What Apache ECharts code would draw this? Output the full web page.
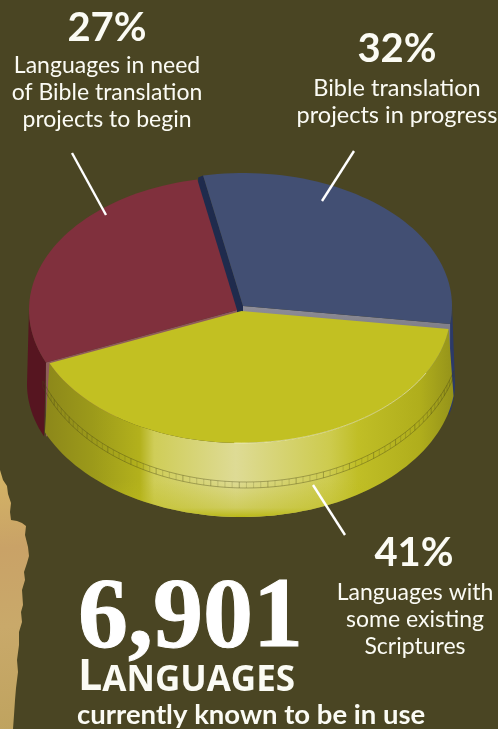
<!DOCTYPE html>
<html>
<head>
<meta charset="utf-8">
<script src="https://cdn.jsdelivr.net/npm/echarts@6/dist/echarts.min.js"></script>
<style>
html,body{margin:0;padding:0;background:#4a4523;}
#chart{width:498px;height:729px;}
</style>
</head>
<body>
<div id="chart"></div>
<script>
var categories = ['Bible translation\nprojects in progress', 'Languages with\nsome existing\nScriptures', 'Languages in need\nof Bible translation\nprojects to begin'];
var shares = [32, 41, 27];
var totalLabel = '6,901';

var START_ANGLE = -11;
var BODY_FONT = 'Lato, "Open Sans", sans-serif';
var WHITE = '#fbfbf4';

// each slice sits a little off centre, like the exploded pie in the picture
var sliceLook = [
  {cx: 243, cy: 306, rx: 209, ry: 133, top: '#424f73', side: '#2c3a68'},
  {cx: 241.5, cy: 311, rx: 209, ry: 132, top: '#c2c022', side: '#b5b31c'},
  {cx: 237, cy: 310, rx: 208, ry: 133, top: '#80303d', side: '#561520'}
];
var drawOrder = [0, 2, 1];

// slight perspective stretch: near part of the disc takes less screen angle than its share
function warp(a) {
  return a - 4.5 * (1 - Math.cos((a - START_ANGLE) * Math.PI / 180));
}

function sliceRange(i) {
  var sum = 0, before = 0;
  for (var k = 0; k < shares.length; k++) {
    sum += shares[k];
    if (k < i) before += shares[k];
  }
  return [warp(START_ANGLE + before / sum * 360), warp(START_ANGLE + (before + shares[i]) / sum * 360)];
}

function pt(l, deg, drop, grow, ryOver) {
  var r = deg * Math.PI / 180;
  return [l.cx + (l.rx + (grow || 0)) * Math.sin(r), l.cy + (drop || 0) - (ryOver || l.ry) * Math.cos(r)];
}

function arc(l, a0, a1, drop, grow, ryOver) {
  var pts = [], n = Math.max(2, Math.ceil(Math.abs(a1 - a0) / 2));
  for (var k = 0; k <= n; k++) pts.push(pt(l, a0 + (a1 - a0) * k / n, drop, grow, ryOver));
  return pts;
}

function grad(x0, y0, x1, y1, stops) {
  return {type: 'linear', x: x0, y: y0, x2: x1, y2: y1, global: true, colorStops: stops};
}

function yellowSide(l, a0, a1) {
  var upper = arc(l, a0, a1);
  var lower = arc(l, a1, a0, 66, 5, 140);
  var shape = {points: upper.concat(lower)};
  var ringTop = [], ringBot = [], ticks = [];
  var ring = {cx: 246, cy: 329, rx: 216, ry: 153};
  var n = 0;
  for (var a = a0 + 8; a <= a1 + 4; a += 1.9) {
    var p = pt(ring, a, 0), q = pt(ring, a, 6);
    ringTop.push(p);
    ringBot.push(q);
    ticks.push({type: 'line', shape: {x1: p[0], y1: p[1], x2: q[0], y2: q[1]},
      style: {stroke: 'rgba(70,68,20,' + (n % 4 == 0 ? 0.5 : 0.28) + ')', lineWidth: 0.7}});
    n++;
  }
  var out = [
    {type: 'polygon', shape: shape, style: {fill: grad(44, 0, 452, 0, [
      {offset: 0, color: '#8c871a'},
      {offset: 0.12, color: '#9c9a1a'},
      {offset: 0.235, color: '#b3b11c'},
      {offset: 0.27, color: '#cfcd58'},
      {offset: 0.47, color: '#dedb95'},
      {offset: 0.7, color: '#cdcb4e'},
      {offset: 0.77, color: '#c0be26'},
      {offset: 0.92, color: '#b0ae1c'},
      {offset: 1, color: '#96941a'}
    ])}},
    {type: 'polygon', shape: shape, style: {fill: grad(0, 480, 0, 517, [
      {offset: 0, color: 'rgba(189,187,28,0)'},
      {offset: 0.75, color: 'rgba(189,187,28,0.45)'},
      {offset: 1, color: 'rgba(185,183,24,1)'}
    ])}},
    {type: 'polyline', shape: {points: ringTop}, style: {stroke: 'rgba(70,68,20,0.55)', lineWidth: 0.7, fill: null}},
    {type: 'polyline', shape: {points: ringBot}, style: {stroke: 'rgba(70,68,20,0.55)', lineWidth: 0.7, fill: null}}
  ];
  return out.concat(ticks);
}

function renderSlice(params, api) {
  var i = api.value(0);
  var l = sliceLook[i];
  var range = sliceRange(i);
  var a0 = range[0], a1 = range[1];
  var kids = [];
  var centre = [l.cx, l.cy];
  var DROP = 74;

  if (i == 0) {
    // blue: sliver of side at right, dark cut facing the red slice, grey cut facing the yellow one
    var s = pt(l, a0), e = pt(l, a1);
    kids.push({type: 'polygon', shape: {points: arc(l, 88, a1 + 6).concat(arc(l, a1 + 6, 88, DROP + 4, 3))}, style: {fill: l.side}});
    kids.push({type: 'polygon', shape: {points: [centre, s, [s[0] - 5, s[1] + 2], [s[0] - 5, s[1] + DROP], [centre[0], centre[1] + DROP]]}, style: {fill: '#1f2b4d'}});
    kids.push({type: 'polygon', shape: {points: [centre, e, [e[0], e[1] + DROP], [centre[0], centre[1] + DROP]]}, style: {fill: grad(0, 306, 0, 340, [
      {offset: 0, color: '#8f8e98'}, {offset: 1, color: '#77767f'}
    ])}});
  }
  if (i == 2) {
    var s2 = pt(l, a0);
    kids.push({type: 'polygon', shape: {points: [centre, s2, [s2[0], s2[1] + DROP], [centre[0], centre[1] + DROP]]}, style: {fill: '#8f5b5b'}});
    kids.push({type: 'polygon', shape: {points: arc(l, a0, 272).concat(arc(l, 272, a0, DROP, 2))}, style: {fill: l.side}});
  }
  if (i == 1) kids = kids.concat(yellowSide(l, a0, a1));

  kids.push({type: 'polygon', shape: {points: [centre].concat(arc(l, a0, a1))}, style: {fill: l.top}});

  if (i == 1) {
    kids.push({type: 'polyline', shape: {points: arc(l, 118, 182)}, style: {stroke: 'rgba(250,250,220,0.55)', lineWidth: 1, fill: null}});
  }
  return {type: 'group', children: kids};
}

function textBlock(x, y, text, size, weight, lh) {
  return {type: 'text', x: x, y: y, silent: true, style: {
    text: text, fill: WHITE, align: 'center', verticalAlign: 'top',
    font: weight + ' ' + size + 'px ' + BODY_FONT, lineHeight: lh
  }};
}

function leader(x1, y1, x2, y2) {
  return {type: 'line', silent: true, shape: {x1: x1, y1: y1, x2: x2, y2: y2}, style: {stroke: '#ffffff', lineWidth: 2.4}, z: 5};
}

var tornEdge = [[0, 470], [3, 480], [7, 486], [8, 494], [11, 503], [10, 512], [11, 520], [17, 521], [22, 523], [26, 526], [25, 535], [28, 547], [29, 556], [27, 563], [24, 572], [25, 580], [22, 590], [23, 605], [21, 612], [22, 622], [19, 632], [19, 645], [17, 660], [18, 672], [16, 688], [15, 700], [14, 715], [13, 729], [0, 729]];

var myChart = echarts.init(document.getElementById('chart'), null, {renderer: 'canvas'});
myChart.setOption({
  backgroundColor: '#4a4523',
  animation: false,
  series: [{
    type: 'custom',
    coordinateSystem: 'none',
    silent: true,
    data: drawOrder.map(function (i) { return [i, shares[i], categories[i]]; }),
    renderItem: renderSlice
  }],
  graphic: [
    {type: 'polygon', silent: true, shape: {points: tornEdge}, style: {fill: grad(0, 470, 28, 729, [
      {offset: 0, color: '#d4b565'}, {offset: 0.3, color: '#c9a267'}, {offset: 0.6, color: '#c9a96a'}, {offset: 1, color: '#bfa35f'}
    ])}},
    leader(72, 153, 106, 215),
    leader(354, 151, 322, 201),
    leader(313, 485, 345, 535),
    textBlock(107, 6, shares[2] + '%', 40, 'bold', 44),
    textBlock(107, 52, categories[2], 23, 'normal', 27),
    textBlock(397, 27, shares[0] + '%', 40, 'bold', 44),
    textBlock(397, 75, categories[0], 23.5, 'normal', 27),
    textBlock(414, 531, shares[1] + '%', 40, 'bold', 44),
    textBlock(415, 579, categories[1], 23, 'normal', 27),
    {type: 'text', x: 78, y: 570, silent: true, style: {
      text: totalLabel, fill: '#ffffff', align: 'left', verticalAlign: 'top',
      font: 'bold 100px "Liberation Serif", serif',
      stroke: '#ffffff', lineWidth: 1
    }},
    {type: 'text', x: 78, y: 656, silent: true, style: {
      text: '{a|L}{b|ANGUAGES}', fill: WHITE, align: 'left', verticalAlign: 'top',
      rich: {
        a: {font: 'bold 43px "Open Sans", sans-serif', fill: WHITE, verticalAlign: 'bottom'},
        b: {font: 'bold 35px "Open Sans", sans-serif', fill: WHITE, verticalAlign: 'bottom'}
      }
    }},
    {type: 'text', x: 77, y: 701, silent: true, style: {
      text: 'currently known to be in use', fill: WHITE, align: 'left', verticalAlign: 'top',
      font: 'bold 27.5px ' + BODY_FONT
    }}
  ]
});
</script>
</body>
</html>
